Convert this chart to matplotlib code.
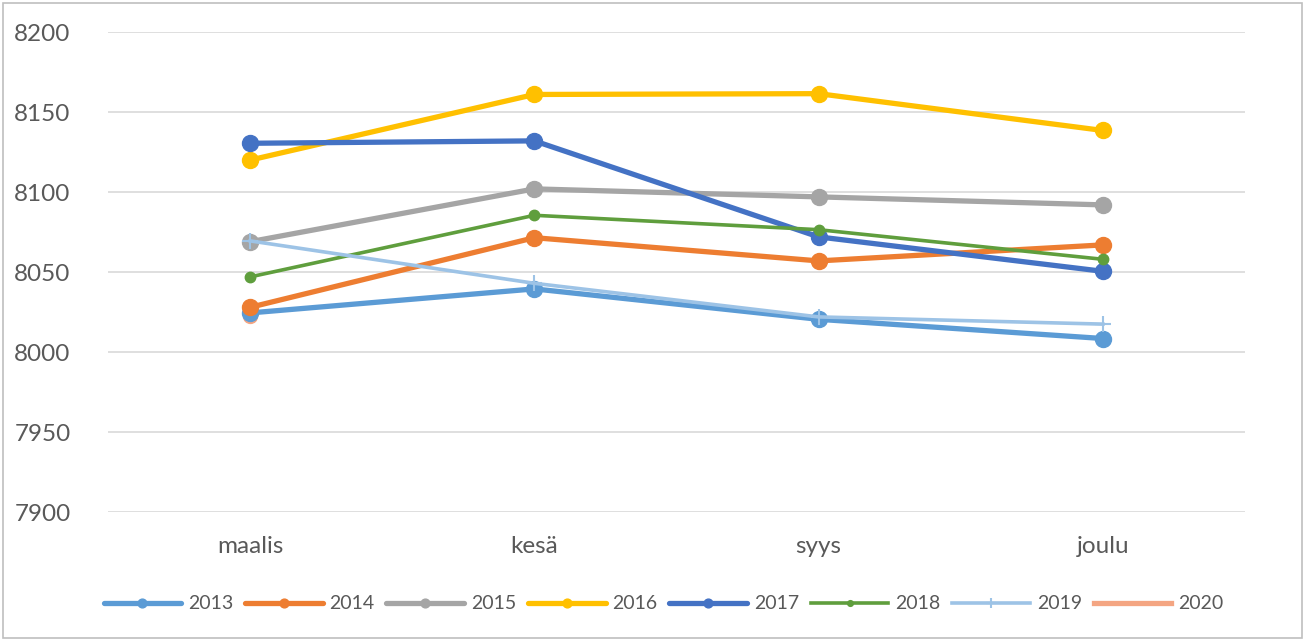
import matplotlib.pyplot as plt
from matplotlib.patches import Rectangle

categories = ["maalis", "kesä", "syys", "joulu"]

s2013 = [8024.5, 8039.5, 8020.5, 8008.5]
s2014 = [8028, 8071.5, 8057, 8067]
s2015 = [8069, 8102, 8097, 8092]
s2016 = [8120, 8161, 8161.5, 8138.5]
s2017 = [8130.5, 8132, 8072, 8050.5]
s2018 = [8047, 8085.5, 8076.5, 8058]
s2019 = [8069.5, 8043, 8022, 8017.5]
s2020 = [8022.5]

yticks = [7900, 7950, 8000, 8050, 8100, 8150, 8200]


def main():
    plt.rcParams['font.family'] = ['Lato', 'DejaVu Sans']
    fig = plt.figure(figsize=(13.06, 6.41), dpi=100)
    ax = fig.add_axes([0.0827, 0.201, 0.8706, 0.749])
    x = list(range(len(categories)))

    big = dict(linewidth=3.8, marker="o", markersize=11.5, solid_capstyle="round")
    ax.plot(x[:1], s2020, color="#F4A582", linewidth=3.8, marker="o", markersize=10, label="_n")
    ax.plot(x, s2013, color="#5B9BD5", label="2013", **big)
    ax.plot(x, s2014, color="#ED7D31", label="2014", **big)
    ax.plot(x, s2015, color="#A5A5A5", label="2015", **big)
    ax.plot(x, s2016, color="#FFC000", label="2016", **big)
    ax.plot(x, s2017, color="#4472C4", label="2017", **big)
    ax.plot(x, s2018, color="#5F9E3D", label="2018", linewidth=2.6, marker="o", markersize=7.5)
    ax.plot(x, s2019, color="#9DC3E6", label="2019", linewidth=2.6, marker="+", markersize=12,
            markeredgewidth=1.5)
    ax.plot([], [], color="#F4A582", linewidth=3.8, label="2020")

    ax.set_xlim(-0.5, 3.5)
    ax.set_ylim(7900, 8200)
    ax.set_yticks(yticks)
    ax.set_xticks(x)
    ax.set_xticklabels(categories)
    ax.grid(axis="y", color="#D9D9D9", linewidth=1.2)
    ax.set_axisbelow(True)
    for sp in ax.spines.values():
        sp.set_visible(False)
    ax.tick_params(length=0, labelsize=17.5, colors="#595959")
    ax.tick_params(axis="y", pad=27)
    ax.tick_params(axis="x", pad=17)

    handles, labels = ax.get_legend_handles_labels()
    keep = [(h, l) for h, l in zip(handles, labels) if not l.startswith("_")]
    leg = fig.legend([h for h, l in keep], [l for h, l in keep], loc="center",
                     bbox_to_anchor=(0.508, 0.058), ncol=8, frameon=False, fontsize=14,
                     handlelength=4.0, columnspacing=0.6, handletextpad=0.35, markerscale=0.55)
    for t in leg.get_texts():
        t.set_color("#595959")

    fig.patches.append(Rectangle((0.002, 0.004), 0.995, 0.992, transform=fig.transFigure,
                                 fill=False, edgecolor="#BFBFBF", linewidth=1.2))
    plt.savefig("out.png", dpi=100)


if __name__ == "__main__":
    main()
